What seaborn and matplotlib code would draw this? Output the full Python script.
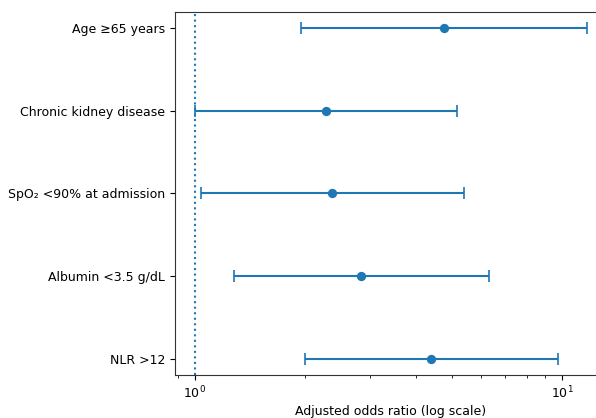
import matplotlib
matplotlib.use('Agg')
import matplotlib.pyplot as plt
import seaborn as sns
import numpy as np
import pandas as pd

# --- data ---
factors = ["Age ≥65 years", "Chronic kidney disease", "SpO₂ <90% at admission",
           "Albumin <3.5 g/dL", "NLR >12"]
odds_ratio = [4.78, 2.28, 2.37, 2.84, 4.40]
ci_low = [1.95, 1.00, 1.04, 1.28, 1.99]
ci_high = [11.7, 5.18, 5.42, 6.30, 9.75]

df = pd.DataFrame({"factor": factors, "or": odds_ratio, "lo": ci_low, "hi": ci_high})
df["ypos"] = np.arange(len(df))[::-1]

sns.set_style("ticks")
plt.rcParams['font.family'] = ['DejaVu Sans']
plt.rcParams['font.size'] = 9
plt.rcParams['text.color'] = 'black'
plt.rcParams['axes.labelcolor'] = 'black'
plt.rcParams['xtick.color'] = 'black'
plt.rcParams['ytick.color'] = 'black'
plt.rcParams['axes.edgecolor'] = '#333333'

fig = plt.figure(figsize=(5.96, 4.18), dpi=100)
ax = fig.add_axes([175 / 596, 1 - 375 / 418, (607 - 175) / 596, (375 - 12) / 418])

color = "#1f77b4"
xerr = np.vstack([df["or"] - df["lo"], df["hi"] - df["or"]])
ax.errorbar(df["or"], df["ypos"], xerr=xerr, fmt="none", ecolor=color,
            elinewidth=1.5, capsize=4, capthick=1.2)
sns.scatterplot(data=df, x="or", y="ypos", ax=ax, color=color, s=45,
                edgecolor=color, linewidth=0, zorder=3)

ax.axvline(1, color=color, linestyle=":", linewidth=1.5)
ax.set_xscale("log")
ax.set_yticks(df["ypos"])
ax.set_yticklabels(df["factor"])
ax.set_xlabel("Adjusted odds ratio (log scale)", fontsize=9, labelpad=3)
ax.set_ylabel("")
ax.tick_params(labelsize=9, length=3.5)
ax.tick_params(which="minor", length=2)

fig.savefig("out.png", dpi=100)
